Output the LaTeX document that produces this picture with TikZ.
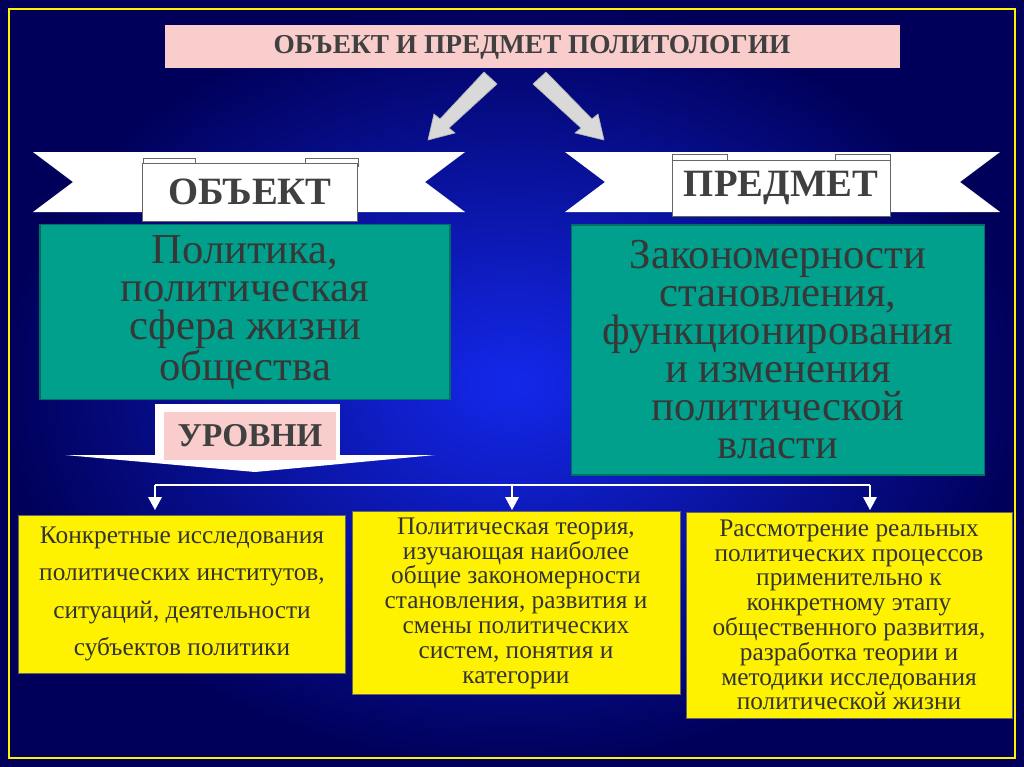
\documentclass[tikz,border=0pt]{standalone}
\usepackage{fontspec}
\setmainfont{Liberation Serif}
\usetikzlibrary{calc}
\begin{document}
\begin{tikzpicture}[x=0.75pt,y=-0.75pt,
  teal/.style={fill=tealc,draw=tealc!70!black,line width=1pt},
  tealtxt/.style={text=txtgray,font=\fontsize{32}{28.5}\selectfont,align=center},
  ybox/.style={fill=yellow,draw=black!60,line width=0.6pt},
  ytxt/.style={text=black!80,font=\fontsize{19}{18.6}\selectfont,align=center},
  ribbon/.style={fill=white,draw=none},
  lbl/.style={fill=white,draw=black!60,line width=0.6pt},
  lbltxt/.style={text=black!75,font=\bfseries\fontsize{29}{30}\selectfont},
  conn/.style={white,line width=2.2pt},
  garrow/.style={draw=black!30,fill=black!15,line width=0.5pt}]
\definecolor{tealc}{RGB}{0,160,140}
\definecolor{txtgray}{RGB}{55,55,55}
\definecolor{pinkc}{RGB}{250,205,205}
\useasboundingbox (0,0) rectangle (1024,767);
\shade[inner color={rgb,255:red,20;green,40;blue,235},outer color={rgb,255:red,0;green,0;blue,90}] (0,0) rectangle (1024,767);
\draw[yellow,line width=2.2pt] (9,9) rectangle (1015,758);
% title
\node[fill=pinkc,draw=none,minimum width=735*0.75pt,minimum height=43*0.75pt,text=black!75,font=\bfseries\fontsize{20.5}{22}\selectfont] (title) at (532,47) {ОБЪЕКТ И ПРЕДМЕТ ПОЛИТОЛОГИИ};
% gray arrows
\path[garrow] (484,72) -- (497,84) -- (449,128) -- (455,133) -- (428,140) -- (434,114) -- (440,119) -- cycle;
\path[garrow] (546,72) -- (533,84) -- (581,128) -- (575,133) -- (604,140) -- (598,114) -- (592,119) -- cycle;
% left ribbon
\path[ribbon] (33,152) -- (465,152) -- (425,182) -- (465,212) -- (33,212) -- (73,182) -- cycle;
\path[lbl] (143,158) rectangle (195,166);
\path[lbl] (305,158) rectangle (358,166);
\node[lbl,minimum width=215*0.75pt,minimum height=58*0.75pt,lbltxt] (obj) at (250,192) {ОБЪЕКТ};
% right ribbon
\path[ribbon] (565,152) -- (1000,152) -- (960,182) -- (1000,212) -- (565,212) -- (605,182) -- cycle;
\path[lbl] (672,154) rectangle (727,162);
\path[lbl] (835,154) rectangle (890,162);
\node[lbl,minimum width=218*0.75pt,minimum height=56*0.75pt,lbltxt] (pred) at (781,188) {ПРЕДМЕТ};
% teal boxes
\node[teal,minimum width=410*0.75pt,minimum height=175*0.75pt,tealtxt] (lt) at (245,312) {Политика,\\политическая\\сфера жизни\\общества};
\node[teal,minimum width=413*0.75pt,minimum height=250*0.75pt,tealtxt] (rt) at (778,350) {Закономерности\\становления,\\функционирования\\и изменения\\политической\\власти};
% levels arrow
\path[fill=white] (155,404) rectangle (340,455);
\path[fill=white] (65,455) -- (435,455) -- (255,472) -- cycle;
\node[fill=pinkc,minimum width=172*0.75pt,minimum height=48*0.75pt,lbltxt,font=\bfseries\fontsize{25}{26}\selectfont] (lev) at (250,436) {УРОВНИ};
% yellow boxes
\node[ybox,minimum width=327*0.75pt,minimum height=158*0.75pt,ytxt,font=\fontsize{19}{28}\selectfont] (y1) at (182,594) {Конкретные исследования\\политических институтов,\\ситуаций, деятельности\\субъектов политики};
\node[ybox,minimum width=328*0.75pt,minimum height=183*0.75pt,ytxt] (y2) at (516,603) {Политическая теория,\\изучающая наиболее\\общие закономерности\\становления, развития и\\смены политических\\систем, понятия и\\категории};
\node[ybox,minimum width=326*0.75pt,minimum height=206*0.75pt,ytxt] (y3) at (849,615) {Рассмотрение реальных\\политических процессов\\применительно к\\конкретному этапу\\общественного развития,\\разработка теории и\\методики исследования\\политической жизни};
% connectors
\coordinate (h1) at (155,485);
\coordinate (h2) at (512,485);
\coordinate (h3) at (870,485);
\draw[conn] (h1) -- (h3);
\foreach \h in {h1,h2,h3}{
  \draw[conn] (\h) -- ++(0,13);
  \fill[white] ($(\h)+(-7,12)$) -- ($(\h)+(7,12)$) -- ($(\h)+(0,25)$) -- cycle;
}
\end{tikzpicture}
\end{document}
